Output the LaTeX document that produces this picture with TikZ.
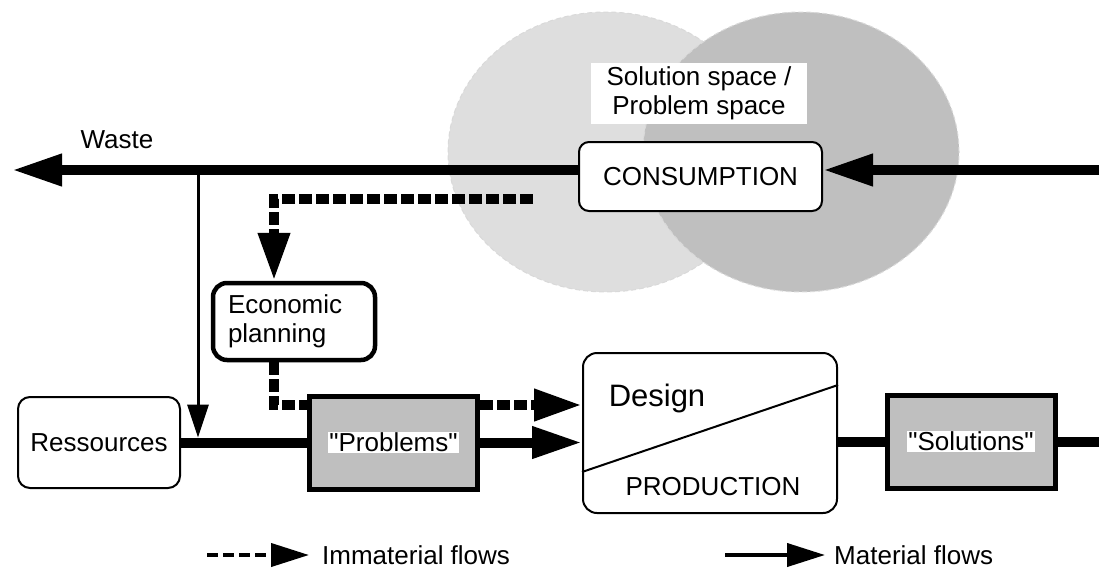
\documentclass[tikz,border=0pt]{standalone}
\usepackage{fontspec}
\setmainfont{Liberation Sans}
\newfontfamily\plainsans{Liberation Sans}
\usepackage{xcolor}
\usetikzlibrary{arrows.meta, calc, positioning}
\definecolor{spaceA}{gray}{0.87}
\definecolor{spaceB}{gray}{0.75}
\definecolor{boxgray}{gray}{0.75}
\newcommand{\txt}{\plainsans\fontsize{26}{29}\selectfont}
\newcommand{\wbox}[1]{{\setlength{\fboxsep}{1pt}\colorbox{white}{#1}}}

\begin{document}
\begin{tikzpicture}[x=1pt, y=-1pt,
  every node/.style={font=\txt, inner sep=0pt},
  roundbox/.style={draw, fill=white, line width=2pt, rounded corners=12pt},
  thingbox/.style={draw, fill=boxgray, line width=5pt, minimum width=168pt, minimum height=93pt},
  matflow/.style={line width=10pt, -{Triangle[length=50pt, width=30pt]}},
  matline/.style={line width=10pt},
  immflow/.style={line width=10pt, line join=miter, dash pattern=on 13pt off 4pt, -{Triangle[length=48pt, width=30pt]}},
  immline/.style={line width=10pt, line join=miter, dash pattern=on 13pt off 4pt},
  thinflow/.style={line width=3pt, -{Triangle[length=33pt, width=21pt]}},
  legimm/.style={line width=4pt, dash pattern=on 11pt off 5pt, -{Triangle[length=38pt, width=23pt]}},
  legmat/.style={line width=4pt, -{Triangle[length=38pt, width=23pt]}},
  spacefill/.style={fill=#1, draw=gray!30, line width=1pt, dash pattern=on 5pt off 3pt}]
  \useasboundingbox (0,0) rectangle (1099,568);
  % solution / problem space
  \draw[spacefill=spaceA] (606,152) ellipse [x radius=158pt, y radius=140pt];
  \draw[spacefill=spaceB] (801,152) ellipse [x radius=158pt, y radius=140pt];
  \node[fill=white, align=center, minimum width=216pt, minimum height=61pt] (space) at (699,93.5) {Solution space /\\Problem space};
  % boxes
  \node[roundbox, rounded corners=10pt, minimum width=243pt, minimum height=69pt] (cons) at (700.5,176.5) {CONSUMPTION};
  \node[roundbox, line width=4.5pt, rounded corners=14pt, minimum height=77pt, text width=132pt, inner xsep=15pt, align=left] (plan) at (294,321.5) {Economic\\planning};
  \node[roundbox, minimum width=162pt, minimum height=91pt] (res) at (99,442.5) {Ressources};
  \node[thingbox] (prob) at (393.5,442.5) {\wbox{"Problems"}};
  \node[roundbox, rounded corners=14pt, minimum width=254pt, minimum height=160pt] (des) at (710,433) {};
  \node[thingbox] (sol) at (971,441.5) {\wbox{"Solutions"}};
  \draw[line width=2pt] (des.west |- 0,472) -- (des.east |- 0,385);
  \node[font=\plainsans\fontsize{31}{34}\selectfont] (design) at (657,398) {Design};
  \node (prod) at (713,487) {PRODUCTION};
  \node (waste) at (117,140) {Waste};
  % material flows
  \coordinate (inflow) at (1099,170);
  \coordinate (wasteend) at (12,170);
  \coordinate (junc) at (198,170);
  \coordinate (outflow) at (1099,441.5);
  \draw[matflow] (inflow) -- ([yshift=6.5pt]cons.east);
  \draw[matflow] ([yshift=6.5pt]cons.west) -- (wasteend);
  \draw[thinflow] (junc) -- ($(junc |- res.east)+(0,-5)$);
  \draw[matline] (res.east) -- (prob.west);
  \draw[matflow] (prob.east) -- (prob.east -| des.west);
  \draw[matline] (des.east |- sol.west) -- (sol.west);
  \draw[matline] (sol.east) -- (outflow);
  % immaterial flows
  \coordinate (dstart) at (533,199);
  \coordinate (dbend) at (274,199);
  \coordinate (pbend) at (274,405);
  \draw[immflow] (dstart) -- (dbend) -- (dbend |- plan.north);
  \draw[immline] (plan.south -| pbend) -- (pbend) -- (pbend -| prob.west);
  \draw[immflow] (pbend -| prob.east) -- (pbend -| des.west);
  % legend
  \coordinate (imst) at (207,555);
  \coordinate (imend) at (309,555);
  \node[anchor=west] (imtxt) at (322,555) {Immaterial flows};
  \draw[legimm] (imst) -- (imend);
  \coordinate (mast) at (725,555);
  \coordinate (maend) at (825,555);
  \node[anchor=west] (matxt) at (834,555) {Material flows};
  \draw[legmat] (mast) -- (maend);
\end{tikzpicture}
\end{document}
